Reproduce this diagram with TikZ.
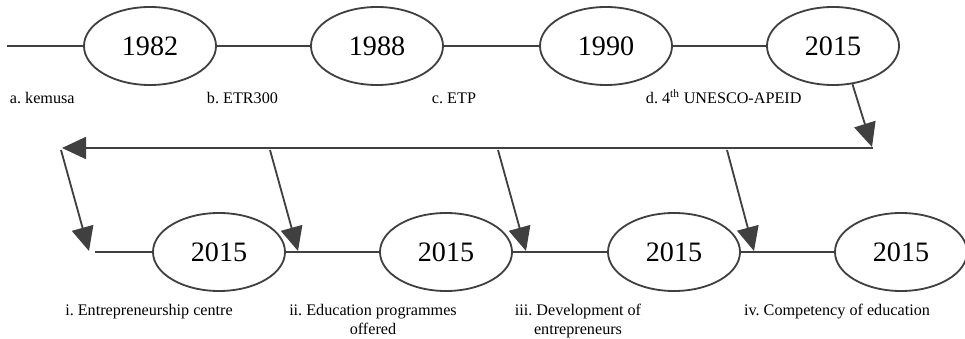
\documentclass[tikz,border=0pt]{standalone}
\usepackage{fontspec}
\setmainfont{Liberation Serif}
\usetikzlibrary{shapes.geometric,arrows.meta}
\definecolor{TLLine}{HTML}{404040}
\frenchspacing

\tikzset{
  year/.style={draw=TLLine,line width=1.3pt,ellipse,inner sep=0pt,
    minimum width=3.3cm,minimum height=1.95cm,font=\fontsize{20}{22}\selectfont},
  tline/.style={draw=TLLine,line width=1.3pt},
  tarrow/.style={tline,-{Triangle[length=0.6cm,width=0.55cm]}},
  lbl/.style={font=\fontsize{11.5}{13.5}\selectfont,align=center}
}

\begin{document}
\begin{tikzpicture}[x=0.025cm,y=-0.025cm]
\path[use as bounding box] (0,0) rectangle (965,339);
% first row
\coordinate (start) at (7,46);
\node[year] (t1) at (150,46) {1982};
\node[year] (t2) at (377,46) {1988};
\node[year] (t3) at (606,46) {1990};
\node[year] (t4) at (833,46) {2015};
\draw[tline] (start) -- (t1.west);
\draw[tline] (t1.east) -- (t2.west);
\draw[tline] (t2.east) -- (t3.west);
\draw[tline] (t3.east) -- (t4.west);
\node[lbl,anchor=west] (la) at (5,98) {a. kemusa};
\node[lbl,anchor=west] (lb) at (202,98) {b. ETR300};
\node[lbl,anchor=west] (lc) at (427,98) {c. ETP};
\node[lbl,anchor=west] (ld) at (641,97) {d. 4\textsuperscript{th} UNESCO-APEID};
% return line
\coordinate (ne) at (873,148);
\coordinate (nw) at (62,148);
\draw[tarrow] (t4.-63) -- (872,147);
\draw[tarrow] (ne) -- (nw);
% second row
\coordinate (bstart) at (95,252);
\node[year] (b1) at (219,252) {2015};
\node[year] (b2) at (446,252) {2015};
\node[year] (b3) at (674,252) {2015};
\node[year] (b4) at (901,252) {2015};
\draw[tline] (bstart) -- (b1.west);
\draw[tline] (b1.east) -- (b2.west);
\draw[tline] (b2.east) -- (b3.west);
\draw[tline] (b3.east) -- (b4.west);
% drops from the return line
\coordinate (d0) at (61,150);
\coordinate (d1) at (270,150);
\coordinate (d2) at (498,150);
\coordinate (d3) at (727,150);
\coordinate (e0) at (89,251);
\coordinate (e1) at (298,251);
\coordinate (e2) at (526,251);
\coordinate (e3) at (754,251);
\draw[tarrow] (d0) -- (e0);
\draw[tarrow] (d1) -- (e1);
\draw[tarrow] (d2) -- (e2);
\draw[tarrow] (d3) -- (e3);
\node[lbl,anchor=north] (li) at (149,299) {i. Entrepreneurship centre};
\node[lbl,anchor=north] (lii) at (373,299) {ii. Education programmes\\offered};
\node[lbl,anchor=north] (liii) at (578,299) {iii. Development of\\entrepreneurs};
\node[lbl,anchor=north] (liv) at (837,299) {iv. Competency of education};
\end{tikzpicture}
\end{document}
